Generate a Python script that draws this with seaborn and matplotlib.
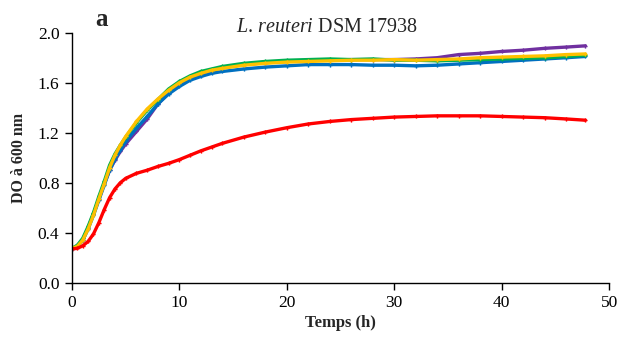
import numpy as np
import pandas as pd
import matplotlib
matplotlib.use("Agg")
import matplotlib.pyplot as plt
import seaborn as sns

# Time (h)
temps = [0, 0.5, 1, 1.5, 2, 2.5, 3, 3.5, 4, 4.5, 5, 6, 7, 8, 9, 10, 11, 12, 13, 14,
         16, 18, 20, 22, 24, 26, 28, 30, 32, 34, 36, 38, 40, 42, 44, 46, 47.8]

violet = [0.27, 0.29, 0.34, 0.44, 0.55, 0.67, 0.79, 0.90, 0.98, 1.05, 1.11, 1.21, 1.31,
          1.43, 1.52, 1.59, 1.64, 1.67, 1.70, 1.72, 1.745, 1.76, 1.77, 1.78, 1.78, 1.785,
          1.785, 1.785, 1.79, 1.80, 1.825, 1.835, 1.85, 1.86, 1.875, 1.885, 1.895]
bleu = [0.27, 0.29, 0.34, 0.43, 0.54, 0.66, 0.78, 0.90, 0.99, 1.06, 1.13, 1.235, 1.33,
        1.43, 1.51, 1.57, 1.62, 1.65, 1.675, 1.69, 1.71, 1.725, 1.735, 1.745, 1.745, 1.745,
        1.74, 1.74, 1.735, 1.74, 1.75, 1.76, 1.77, 1.78, 1.79, 1.80, 1.81]
vert = [0.275, 0.30, 0.355, 0.45, 0.56, 0.69, 0.81, 0.94, 1.03, 1.10, 1.165, 1.28, 1.38,
        1.465, 1.55, 1.61, 1.655, 1.69, 1.71, 1.73, 1.755, 1.77, 1.78, 1.785, 1.79, 1.785,
        1.79, 1.78, 1.78, 1.775, 1.78, 1.785, 1.79, 1.795, 1.80, 1.81, 1.82]
jaune = [0.275, 0.29, 0.34, 0.43, 0.54, 0.67, 0.79, 0.92, 1.02, 1.10, 1.17, 1.29, 1.39,
         1.47, 1.54, 1.60, 1.645, 1.675, 1.70, 1.715, 1.74, 1.755, 1.765, 1.77, 1.775, 1.78,
         1.78, 1.785, 1.78, 1.785, 1.79, 1.80, 1.805, 1.81, 1.815, 1.825, 1.83]
rouge = [0.27, 0.275, 0.295, 0.33, 0.39, 0.48, 0.585, 0.68, 0.75, 0.80, 0.835, 0.875, 0.90,
         0.93, 0.955, 0.985, 1.02, 1.055, 1.085, 1.115, 1.165, 1.205, 1.24, 1.27, 1.29, 1.305,
         1.315, 1.325, 1.33, 1.335, 1.335, 1.335, 1.33, 1.325, 1.32, 1.31, 1.30]

series = {"violet": violet, "bleu": bleu, "vert": vert, "jaune": jaune, "rouge": rouge}
palette = {"violet": "#7030A0", "bleu": "#0070C0", "vert": "#00B050",
           "jaune": "#FFC000", "rouge": "#FF0000"}

frames = [pd.DataFrame({"t": temps, "DO": v, "serie": k}) for k, v in series.items()]
df = pd.concat(frames, ignore_index=True)

sns.set_style("ticks")
plt.rcParams["font.family"] = ["Liberation Serif", "DejaVu Serif"]
plt.rcParams["mathtext.fontset"] = "custom"
plt.rcParams["mathtext.rm"] = "Liberation Serif"
plt.rcParams["mathtext.it"] = "Liberation Serif:italic"

fig = plt.figure(figsize=(6.19, 3.40), dpi=100)
ax = fig.add_axes([0.1163, 0.1685, 0.8677, 0.7353])

sns.lineplot(data=df, x="t", y="DO", hue="serie", palette=palette, ax=ax,
             linewidth=2.4, legend=False, sort=False,
             marker="P", markersize=3.0, markeredgewidth=0)

ax.set_xlim(0, 50)
ax.set_ylim(0, 2.0)
ax.set_xticks([0, 10, 20, 30, 40, 50])
ax.set_yticks([0.0, 0.4, 0.8, 1.2, 1.6, 2.0])
ax.set_yticklabels([f"{v:.1f}" for v in [0.0, 0.4, 0.8, 1.2, 1.6, 2.0]])
ax.tick_params(axis="both", direction="out", length=5, width=1, colors="black",
               labelsize=12.5, pad=4)
for s in ["left", "bottom"]:
    ax.spines[s].set_color("black")
    ax.spines[s].set_linewidth(1)
sns.despine(ax=ax)

ax.set_xlabel("Temps (h)", fontsize=12, fontweight="bold", labelpad=3)
ax.set_ylabel("DO à 600 nm", fontsize=11.5, fontweight="bold", labelpad=8)

fig.text(327 / 619, 1 - 27 / 340, r"$\mathit{L.}\,\mathit{reuteri}$ DSM 17938",
         ha="center", va="center", fontsize=14.5)
fig.text(101 / 619, 1 - 20 / 340, "a", ha="center", va="center",
         fontsize=18, fontweight="bold")

fig.savefig("out.png", dpi=100)
